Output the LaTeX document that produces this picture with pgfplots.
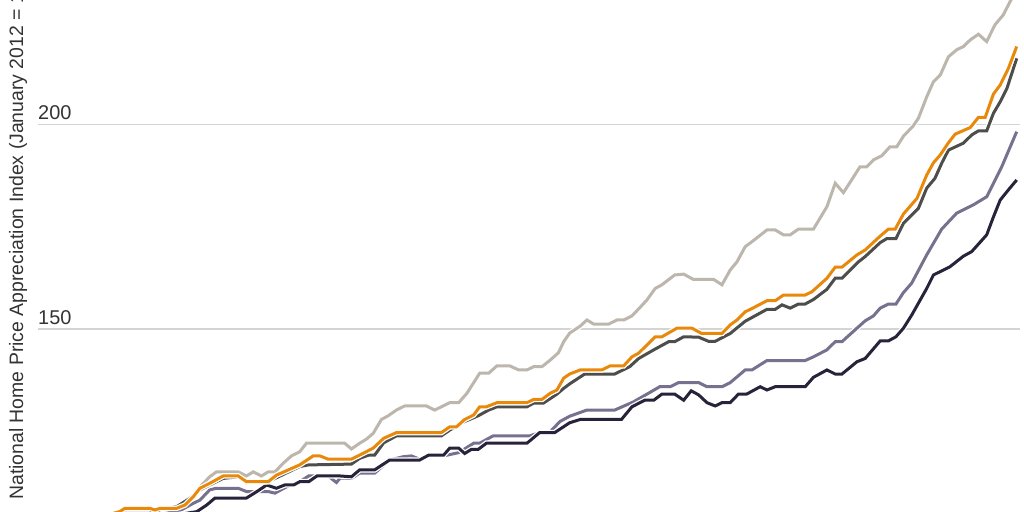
\documentclass[border=0pt]{standalone}
\usepackage{fontspec}
\setmainfont{Liberation Sans}
\usepackage{pgfplots}
\pgfplotsset{compat=1.18}

\definecolor{lightgr}{HTML}{BDB6AC}
\definecolor{orng}{HTML}{E8890B}
\definecolor{darkgr}{HTML}{4D4D4B}
\definecolor{purp}{HTML}{77718F}
\definecolor{navy}{HTML}{28233A}
\definecolor{txt}{HTML}{333333}
\definecolor{gridc}{HTML}{D4D4D4}

\pgfplotsset{
  halo/.style={line width=3bp, preaction={draw=white, line width=5.5bp}, mark=none},
}

\begin{document}
\begin{tikzpicture}
\begin{axis}[
    at={(38bp,0bp)}, anchor=south west,
    scale only axis,
    width=982bp, height=512bp,
    xmin=-0.49, xmax=130.44,
    ymin=105.3, ymax=230.36,
    axis line style={draw=none},
    major tick length=0pt,
    xtick=\empty,
    ytick={150,200},
    ymajorgrids,
    grid style={line width=1.5bp, color=gridc},
    /pgf/number format/assume math mode=true,
    yticklabel style={anchor=south west, inner sep=0pt, yshift=4bp,
        font=\fontsize{20}{24}\selectfont, text=txt},
    clip=true,
]
% light gray series
\addplot[halo, draw=lightgr] coordinates {
(0,100) (10.4,105.5) (11.1,106.3) (14.4,106.3) (15.1,106.0) (15.8,106.3)
(18.0,106.4) (19.1,107.3) (20.2,109.4) (21.1,111.4) (22.4,113.9) (23.3,115.1)
(26.2,115.1) (27.3,114.1) (28.2,115.1) (29.3,114.1) (30.2,115.1) (31.1,115.1)
(32.2,117.2) (33.3,119.0) (34.4,120.0) (35.3,122.1) (40.4,122.1) (41.3,120.7)
(42.4,122.1) (43.3,123.1) (44.2,124.5) (45.3,127.9) (46.2,128.8) (47.3,130.2)
(48.4,131.2) (51.3,131.2) (52.4,130.2) (54.4,132.0) (55.6,132.0) (56.7,134.3)
(58.4,139.2) (59.6,139.2) (60.7,141.0) (62.4,141.0) (63.6,140.0) (64.7,140.0)
(65.6,140.8) (66.7,140.8) (67.8,142.4) (68.9,144.2) (69.6,146.9) (70.4,149.0)
(71.8,150.7) (72.7,152.2) (73.6,151.2) (75.6,151.2) (76.7,152.2) (77.6,152.2)
(78.7,153.2) (79.8,155.3) (80.7,157.1) (81.8,159.9) (82.7,160.8) (84.4,163.2)
(85.6,163.4) (86.9,162.1) (89.6,162.1) (90.7,160.8) (91.8,164.4) (92.7,166.4)
(93.8,170.1) (94.9,171.6) (96.7,174.2) (97.8,174.2) (98.9,173.0) (99.8,173.0)
(100.9,174.4) (102.9,174.4) (104.7,179.9) (105.8,185.6) (106.9,183.3)
(109.1,189.6) (110.0,189.6) (110.9,191.3) (112.0,192.3) (113.1,194.5)
(114.0,194.5) (114.9,197.1) (116.2,199.6) (116.9,201.5) (118.0,206.7)
(118.9,210.4) (119.8,212.0) (120.9,216.5) (122.0,218.2) (122.9,219.0)
(123.8,220.6) (124.9,222.0) (126.0,220.2) (127.1,224.3) (128.2,226.7)
(129.1,229.9) (130.0,233.0)
};
% purple series
\addplot[halo, draw=purp] coordinates {
(0,100) (10,103.5) (16,104.8) (18.4,105.6) (20.2,107.4) (21.1,108.2)
(22.4,110.7) (23.3,111.1) (26.2,111.1) (27.3,110.3) (30.2,110.3) (31.1,109.9)
(32.7,111.5) (34.4,112.7) (35.6,114.1) (38.2,114.1) (39.3,112.5) (39.8,113.6)
(41.3,113.5) (42.4,114.8) (44.4,114.8) (46.4,118.0) (48.2,118.8) (49.3,119.0)
(50.4,118.2) (51.6,119.0) (53.6,119.0) (55.6,119.8) (57.6,122.1) (58.4,122.1)
(60.2,123.9) (65.1,123.9) (66.4,124.7) (67.8,124.9) (69.1,127.4) (70.4,128.7)
(72.7,130.2) (76.4,130.2) (78.9,132.2) (80.9,134.3) (82.4,135.9) (83.8,135.9)
(84.9,136.9) (87.6,136.9) (88.7,135.9) (90.7,135.9) (91.8,136.9) (93.8,140.0)
(94.7,140.0) (96.7,142.3) (101.8,142.3) (102.9,143.2) (104.7,144.9)
(105.8,146.9) (106.7,146.9) (108.7,150.2) (109.8,152.0) (110.9,153.2)
(111.8,155.1) (112.9,156.1) (113.9,156.1) (114.9,158.9) (116.0,161.2)
(118.0,168.1) (120.0,174.4) (122.0,178.3) (124.2,180.3) (126.0,182.3)
(126.9,185.6) (128.0,189.6) (130.0,198.2)
};
% navy series
\addplot[halo, draw=navy] coordinates {
(0,100) (10,103.0) (16,104.0) (20.7,105.4) (22.0,107.0) (23.1,108.7)
(27.3,108.7) (28.7,110.3) (30.0,111.9) (31.3,111.1) (32.4,111.9) (33.6,111.9)
(34.4,112.7) (35.6,112.7) (36.7,114.1) (39.8,114.1) (41.3,113.9) (42.4,115.6)
(44.4,115.6) (46.4,118.0) (50.4,118.0) (51.6,119.2) (53.6,119.2) (54.4,120.9)
(55.6,120.9) (56.4,119.6) (57.3,120.6) (58.2,120.6) (59.3,122.1) (64.7,122.1)
(66.4,124.7) (68.4,124.7) (70.4,127.1) (71.8,127.9) (77.3,127.9) (78.7,131.0)
(80.4,132.6) (81.6,132.6) (82.7,134.1) (84.4,134.1) (85.6,132.6) (86.6,134.9)
(87.6,133.9) (88.7,132.0) (89.8,131.2) (90.7,132.0) (91.8,132.0) (92.9,134.1)
(94.0,134.1) (95.8,135.9) (96.7,135.1) (97.8,135.9) (101.8,135.9)
(102.9,138.2) (104.7,140.0) (105.8,139.0) (106.7,139.0) (108.7,142.0)
(109.8,142.8) (111.8,147.1) (112.9,147.1) (113.9,148.1) (114.9,150.2)
(116.0,153.4) (118.0,159.9) (118.9,163.2) (120.0,164.2) (121.1,165.2)
(122.9,167.8) (124.0,168.9) (126.0,173.0) (126.9,177.4) (127.8,181.5)
(128.9,184.0) (130.0,186.4)
};
% dark gray series
\addplot[halo, draw=darkgr] coordinates {
(0,100) (10.4,105.0) (11.1,105.9) (14.4,105.9) (15.1,105.1) (15.8,105.9)
(18.0,106.6) (19.8,108.7) (21.1,110.7) (22.4,111.9) (24.2,113.5) (26.2,113.9)
(27.3,112.5) (30.2,112.7) (31.8,114.1) (34.4,116.4) (35.6,116.8) (41.3,117.0)
(42.4,118.4) (43.6,119.2) (44.4,119.2) (45.6,122.2) (47.3,123.9) (53.3,123.9)
(54.4,125.3) (56.4,127.4) (58.2,128.8) (59.6,130.2) (60.7,131.0) (64.7,131.0)
(65.6,131.9) (66.9,131.9) (68.7,134.1) (69.6,135.5) (70.4,136.6) (72.4,139.0)
(76.4,139.0) (78.4,140.8) (79.6,142.8) (81.6,144.9) (83.6,146.9) (84.4,146.9)
(85.6,148.1) (87.6,148.0) (88.9,147.0) (89.8,147.0) (91.8,148.9) (93.8,151.9)
(96.7,154.8) (97.8,154.8) (98.7,155.9) (99.8,155.1) (100.9,156.1)
(101.8,156.1) (102.9,157.2) (104.7,159.7) (105.8,162.4) (106.7,162.4)
(108.9,166.4) (109.8,167.7) (111.8,171.1) (112.7,172.1) (113.9,172.1)
(114.9,175.8) (116.9,179.5) (118.0,184.4) (119.1,186.8) (120.0,190.5)
(120.9,193.7) (122.9,195.4) (124.0,197.4) (124.9,198.4) (126.0,198.4)
(126.9,202.7) (127.8,205.5) (128.7,208.8) (130.0,216.1)
};
% orange series
\addplot[halo, draw=orng] coordinates {
(0,100) (10.4,105.4) (11.1,106.2) (14.4,106.2) (15.1,105.8) (15.8,106.2)
(18.0,106.2) (19.1,107.0) (20.2,109.0) (21.1,111.1) (22.4,112.3) (24.2,114.1)
(26.2,114.1) (27.3,112.7) (30.2,112.7) (31.3,114.3) (34.4,116.8) (36.2,119.0)
(37.1,119.0) (38.2,118.2) (41.3,118.2) (42.4,119.2) (44.2,120.9) (45.6,123.3)
(47.3,124.7) (53.3,124.7) (54.4,126.1) (55.3,126.1) (56.4,127.9) (57.6,129.0)
(58.4,131.0) (59.3,131.0) (60.7,132.0) (64.7,132.0) (65.6,132.8) (66.7,132.8)
(67.8,134.3) (68.7,135.1) (69.6,138.0) (70.4,139.0) (71.8,140.0) (74.7,140.0)
(75.8,141.0) (77.6,141.0) (78.7,143.2) (79.6,144.1) (80.7,146.1) (81.8,148.1)
(82.7,148.1) (84.7,150.2) (86.7,150.2) (88.0,148.9) (90.7,148.9) (91.8,151.0)
(92.7,152.2) (93.8,154.2) (94.7,155.0) (96.7,156.9) (97.8,156.9) (98.9,158.3)
(101.8,158.3) (102.7,159.1) (104.7,162.4) (105.8,165.1) (106.7,165.1)
(108.7,168.1) (109.8,169.3) (111.8,172.7) (112.9,174.4) (113.8,174.4)
(114.9,178.1) (116.7,181.9) (118.0,187.6) (118.9,190.6) (119.8,192.5)
(120.9,195.5) (121.8,197.6) (123.8,199.2) (124.9,201.7) (125.8,201.7)
(126.9,207.4) (127.8,209.6) (128.9,213.7) (130.0,219.0)
};
\end{axis}
\node[rotate=90, anchor=base west, inner sep=0pt, text=txt,
      font=\fontsize{19.5}{23}\selectfont] at (23bp,12bp)
  {National Home Price Appreciation Index (January 2012 = 100)};
\pgfresetboundingbox
\useasboundingbox (0,0) rectangle (1024bp,512bp);
\end{tikzpicture}
\end{document}
